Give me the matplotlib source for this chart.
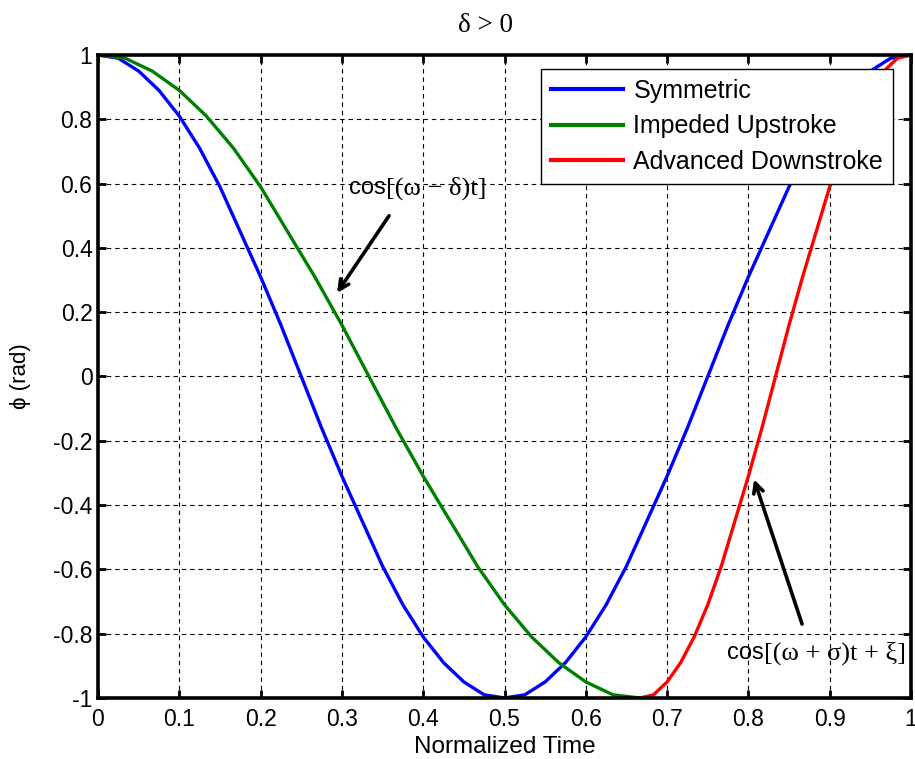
import matplotlib
matplotlib.use('Agg')
import matplotlib.pyplot as plt

# Curvas de fase normalizadas (valores leídos punto a punto)
t_sim = [i / 40 for i in range(41)]
phi_sim = [1.00, 0.99, 0.95, 0.89, 0.81, 0.71, 0.59, 0.45, 0.31, 0.16,
           0.00, -0.16, -0.31, -0.45, -0.59, -0.71, -0.81, -0.89, -0.95, -0.99,
           -1.00, -0.99, -0.95, -0.89, -0.81, -0.71, -0.59, -0.45, -0.31, -0.16,
           0.00, 0.16, 0.31, 0.45, 0.59, 0.71, 0.81, 0.89, 0.95, 0.99, 1.00]

t_up = [i / 30 for i in range(21)]
phi_up = [1.00, 0.99, 0.95, 0.89, 0.81, 0.71, 0.59, 0.45, 0.31, 0.16,
          0.00, -0.16, -0.31, -0.45, -0.59, -0.71, -0.81, -0.89, -0.95, -0.99, -1.00]

t_down = [2 / 3 + i / 60 for i in range(21)]
phi_down = [-1.00, -0.99, -0.95, -0.89, -0.81, -0.71, -0.59, -0.45, -0.31, -0.16,
            0.00, 0.16, 0.31, 0.45, 0.59, 0.71, 0.81, 0.89, 0.95, 0.99, 1.00]

series = ['Symmetric', 'Impeded Upstroke', 'Advanced Downstroke']
colores = ['#0000ff', '#008000', '#ff0000']

xticks = [i / 10 for i in range(11)]
xtick_labels = ['0', '0.1', '0.2', '0.3', '0.4', '0.5', '0.6', '0.7', '0.8', '0.9', '1']
yticks = [-1, -0.8, -0.6, -0.4, -0.2, 0, 0.2, 0.4, 0.6, 0.8, 1]
ytick_labels = ['-1', '-0.8', '-0.6', '-0.4', '-0.2', '0', '0.2', '0.4', '0.6', '0.8', '1']

SANS = ['Liberation Sans', 'DejaVu Sans']
SERIF = ['Liberation Serif', 'DejaVu Serif']
plt.rcParams['font.family'] = SANS

fig = plt.figure(figsize=(9.15, 7.59), dpi=100)
ax = fig.add_axes([98 / 915, 1 - 698 / 759, 813 / 915, 643 / 759])

ax.plot(t_sim, phi_sim, color=colores[0], lw=2.4, label=series[0])
ax.plot(t_up, phi_up, color=colores[1], lw=2.4, label=series[1])
ax.plot(t_down, phi_down, color=colores[2], lw=2.4, label=series[2])

ax.set_xlim(0, 1)
ax.set_ylim(-1, 1)
ax.set_xticks(xticks)
ax.set_xticklabels(xtick_labels)
ax.set_yticks(yticks)
ax.set_yticklabels(ytick_labels)
ax.tick_params(direction='in', length=6, width=2, top=True, right=True,
               labelsize=16.5)
ax.tick_params(axis='x', pad=7)
ax.tick_params(axis='y', pad=4)
for s in ax.spines.values():
    s.set_linewidth(2.6)
ax.grid(True, color='k', lw=0.8, linestyle=(0, (4, 3.5)))

ax.set_xlabel('Normalized Time', fontsize=17.5, labelpad=4)
ax.set_ylabel('\u03d5 (rad)', fontsize=16, labelpad=16)
fig.text(485 / 915, 1 - 25 / 759, '\u03b4 > 0', family=SERIF, fontsize=19.5,
         ha='center', va='center')

leg = ax.legend(loc='upper right', bbox_to_anchor=(0.978, 0.978),
                borderaxespad=0, fontsize=18, handlelength=2.9,
                handletextpad=0.4, labelspacing=0.45, borderpad=0.4,
                fancybox=False, framealpha=1, edgecolor='k')
leg.get_frame().set_linewidth(1.0)
for ln in leg.get_lines():
    ln.set_linewidth(3.0)

# Flechas y rótulos de las fases
flecha = dict(arrowstyle='->,head_length=0.7,head_width=0.35', color='k', lw=2.6,
              shrinkA=0, shrinkB=0)
ax.annotate('', xy=(0.294, 0.26), xytext=(0.358, 0.50), arrowprops=flecha)
ax.annotate('', xy=(0.807, -0.32), xytext=(0.866, -0.77), arrowprops=flecha)

t1 = ax.text(0.309, 0.585, 'cos', fontsize=17, va='center')
ax.annotate('[(\u03c9 \u2212 \u03b4)t]', xy=(1, 0.5), xycoords=t1, va='center',
            family=SERIF, fontsize=19)
t2 = ax.text(0.774, -0.86, 'cos', fontsize=17, va='center')
ax.annotate('[(\u03c9 + \u03c3)t + \u03be]', xy=(1, 0.5), xycoords=t2, va='center',
            family=SERIF, fontsize=19)

fig.savefig('out.png', dpi=100)
